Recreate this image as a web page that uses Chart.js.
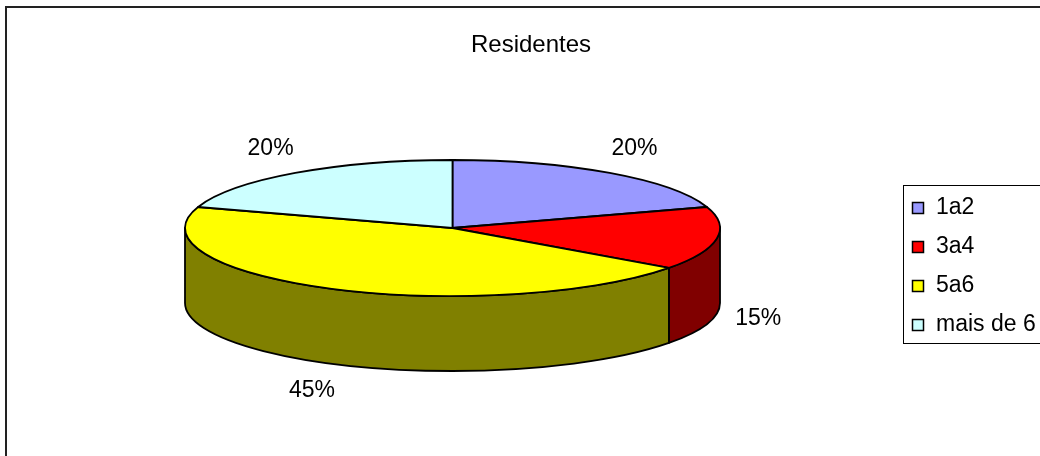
<!DOCTYPE html>
<html>
<head>
<meta charset="utf-8">
<title>Residentes</title>
<script src="https://cdn.jsdelivr.net/npm/chart.js@4/dist/chart.umd.min.js"></script>
<style>
  body { margin: 0; background: #fff; }
  #wrap { width: 1040px; height: 456px; }
</style>
</head>
<body>
<div id="wrap"><canvas id="residentes"></canvas></div>
<script>
var categories = ["1a2", "3a4", "5a6", "mais de 6"];
var shares = [20, 15, 45, 20];
var topColors = ["#9999FF", "#FF0000", "#FFFF00", "#CCFFFF"];
var sideColors = ["#4D4D80", "#800000", "#808000", "#668080"];

var FONT = "'Liberation Sans', Arial, Helvetica, sans-serif";

// flattened pie: top face ellipse + wall depth
var pie = { cx: 452.5, cy: 228, rx: 267.5, ry: 68, depth: 75 };

var pie3d = {
  id: 'pie3d',
  beforeDatasetsDraw: function (chart) {
    var ctx = chart.ctx;
    var arcs = chart.getDatasetMeta(0).data;
    var cx = pie.cx, cy = pie.cy, rx = pie.rx, ry = pie.ry, d = pie.depth;

    ctx.save();
    ctx.lineWidth = 1.8;
    ctx.strokeStyle = '#000';
    ctx.lineJoin = 'round';

    // walls, only the front half (0..PI) can be seen
    arcs.forEach(function (arc, i) {
      var a0 = Math.max(arc.startAngle, 0);
      var a1 = Math.min(arc.endAngle, Math.PI);
      if (a1 <= a0) return;
      ctx.beginPath();
      ctx.ellipse(cx, cy, rx, ry, 0, a0, a1, false);
      ctx.lineTo(cx + rx * Math.cos(a1), cy + d + ry * Math.sin(a1));
      ctx.ellipse(cx, cy + d, rx, ry, 0, a1, a0, true);
      ctx.closePath();
      ctx.fillStyle = sideColors[i];
      ctx.fill();
      ctx.stroke();
    });

    // top faces
    arcs.forEach(function (arc, i) {
      ctx.beginPath();
      ctx.moveTo(cx, cy);
      ctx.ellipse(cx, cy, rx, ry, 0, arc.startAngle, arc.endAngle, false);
      ctx.closePath();
      ctx.fillStyle = topColors[i];
      ctx.fill();
      ctx.stroke();
    });
    ctx.restore();
    return false;
  },
  afterDraw: function (chart) {
    var ctx = chart.ctx;
    var arcs = chart.getDatasetMeta(0).data;
    var total = shares.reduce(function (a, b) { return a + b; }, 0);

    ctx.save();
    // percentage labels outside each slice
    ctx.fillStyle = '#000';
    ctx.font = '23px ' + FONT;
    ctx.textAlign = 'center';
    ctx.textBaseline = 'middle';
    arcs.forEach(function (arc, i) {
      var mid = (arc.startAngle + arc.endAngle) / 2;
      var s = Math.sin(mid);
      var x = pie.cx + (pie.rx + 42) * Math.cos(mid);
      var y = pie.cy + (pie.ry + 30) * s + (s > 0 ? pie.depth : 0);
      ctx.fillText(Math.round(shares[i] / total * 100) + '%', x, y);
    });

    // legend
    var lx = 903, ly = 185, step = 39;
    ctx.lineWidth = 1;
    ctx.strokeStyle = '#000';
    ctx.strokeRect(lx + 0.5, ly + 0.5, 160, 158);
    ctx.font = '23px ' + FONT;
    ctx.textAlign = 'left';
    categories.forEach(function (name, i) {
      var y = ly + 22 + i * step;
      ctx.fillStyle = topColors[i];
      ctx.fillRect(lx + 9, y - 5, 11, 11);
      ctx.lineWidth = 1.5;
      ctx.strokeRect(lx + 9.5, y - 4.5, 11, 11);
      ctx.fillStyle = '#000';
      ctx.fillText(name, lx + 33, y + 1);
    });

    // chart frame
    ctx.lineWidth = 2;
    ctx.strokeStyle = '#222';
    ctx.strokeRect(6, 7, 1100, 500);
    ctx.restore();
  }
};

new Chart(document.getElementById('residentes'), {
  type: 'pie',
  data: {
    labels: categories,
    datasets: [{
      data: shares,
      backgroundColor: topColors,
      borderColor: '#000',
      borderWidth: 1
    }]
  },
  options: {
    responsive: true,
    maintainAspectRatio: false,
    animation: false,
    layout: { padding: { left: 22 } },
    plugins: {
      legend: { display: false },
      tooltip: { enabled: false },
      title: {
        display: true,
        text: 'Residentes',
        color: '#000',
        font: { family: FONT, size: 24, weight: 'normal' },
        padding: { top: 31, bottom: 10 }
      }
    }
  },
  plugins: [pie3d]
});
</script>
</body>
</html>
